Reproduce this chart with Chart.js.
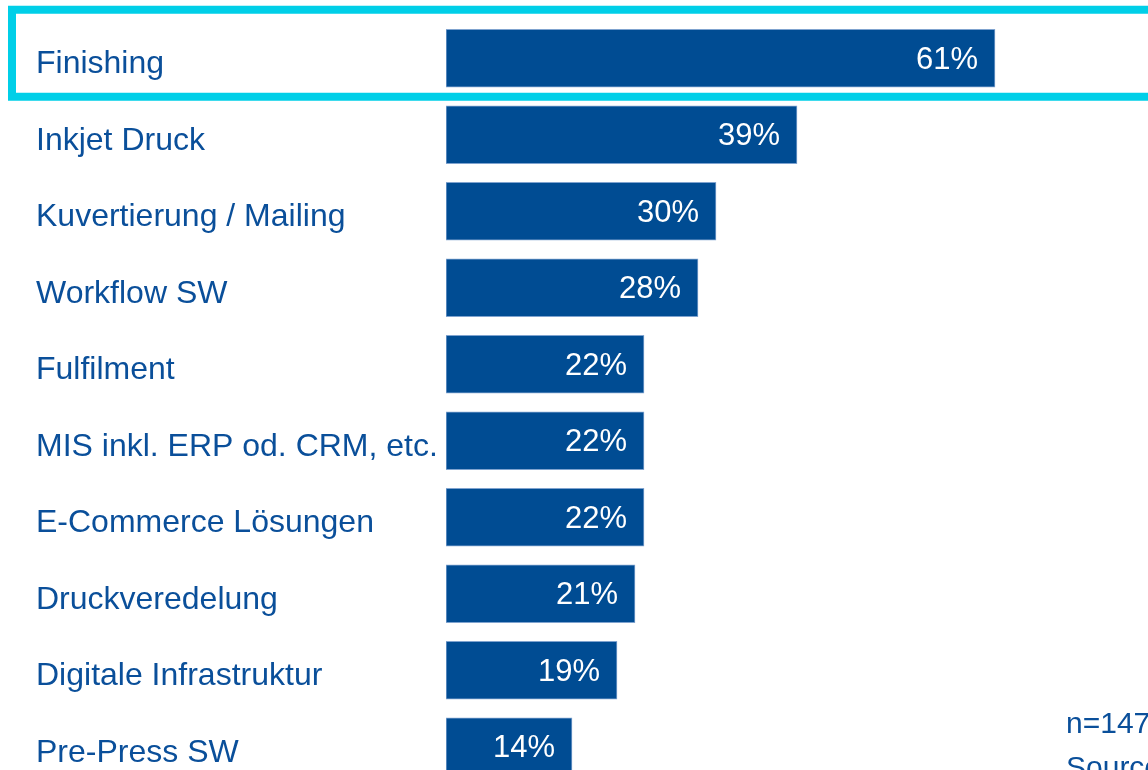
<!DOCTYPE html>
<html>
<head>
<meta charset="utf-8">
<script src="https://cdn.jsdelivr.net/npm/chart.js@4"></script>
<style>
html,body{margin:0;padding:0;overflow:hidden;background:#fff;}
canvas{display:block;}
</style>
</head>
<body>
<canvas id="barChart" width="1148" height="810"></canvas>
<script>
const categories = ["Finishing","Inkjet Druck","Kuvertierung / Mailing","Workflow SW","Fulfilment","MIS inkl. ERP od. CRM, etc.","E-Commerce Lösungen","Druckveredelung","Digitale Infrastruktur","Pre-Press SW"];
const shares = [61,39,30,28,22,22,22,21,19,14];
const highlighted = ["Finishing"];
const footnotes = ["n=147","Source:"];

const FONT = '"Liberation Sans", Arial, sans-serif';
const BLUE = "#004C93";
const TEXT_BLUE = "#0A4F9A";
const CYAN = "#00CFE8";

// white % labels inside the bar end
const valueLabels = {
  id: "valueLabels",
  afterDatasetsDraw(chart){
    const ctx = chart.ctx;
    const meta = chart.getDatasetMeta(0);
    ctx.save();
    ctx.fillStyle = "#fff";
    ctx.font = "31px " + FONT;
    ctx.textAlign = "right";
    ctx.textBaseline = "middle";
    meta.data.forEach(function(bar, i){
      ctx.fillText(shares[i] + "%", bar.x - 17, bar.y + 2);
    });
    ctx.restore();
  }
};

// cyan frame around highlighted row + footnote
const extras = {
  id: "extras",
  afterDraw(chart){
    const ctx = chart.ctx;
    const y = chart.scales.y;
    ctx.save();
    ctx.strokeStyle = CYAN;
    ctx.lineWidth = 8;
    highlighted.forEach(function(name){
      const cy = y.getPixelForValue(categories.indexOf(name));
      ctx.strokeRect(12, cy - 48.5, chart.width + 20, 87);
    });
    ctx.fillStyle = TEXT_BLUE;
    ctx.font = "30px " + FONT;
    ctx.textAlign = "left";
    ctx.textBaseline = "alphabetic";
    footnotes.forEach(function(t, i){
      ctx.fillText(t, 1066, 733 + i * 44);
    });
    ctx.restore();
  }
};

new Chart(document.getElementById("barChart"), {
  type: "bar",
  data: {
    labels: categories,
    datasets: [{
      data: shares,
      backgroundColor: BLUE,
      borderColor: "#7FA3CF",
      borderWidth: 1,
      borderSkipped: false,
      barThickness: 58
    }]
  },
  options: {
    indexAxis: "y",
    responsive: false,
    animation: false,
    layout: { padding: { left: 36, top: 20, bottom: 25, right: 0 } },
    plugins: { legend: { display: false }, tooltip: { enabled: false } },
    scales: {
      x: { display: false, min: 0, max: 78 },
      y: {
        grid: { display: false },
        border: { display: false },
        afterFit(scale){ scale.width = 410; },
        ticks: {
          crossAlign: "far",
          color: TEXT_BLUE,
          font: { family: FONT, size: 32 },
          labelOffset: 6,
          padding: 0
        }
      }
    }
  },
  plugins: [valueLabels, extras]
});
</script>
</body>
</html>
